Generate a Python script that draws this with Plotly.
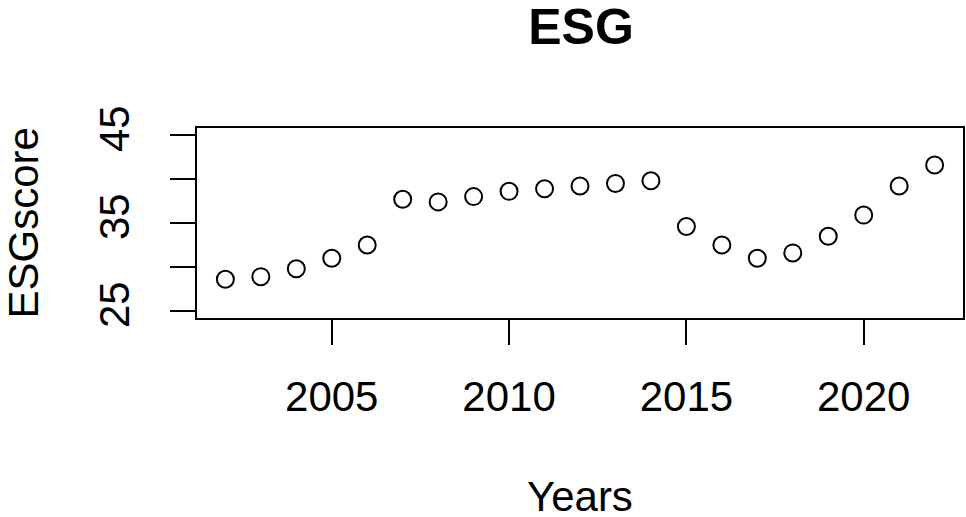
import plotly.graph_objects as go

years = list(range(2002, 2023))
esg_score = [28.6, 28.9, 29.8, 31.0, 32.5, 37.7, 37.4, 38.0, 38.6, 38.9, 39.2,
             39.5, 39.8, 34.6, 32.5, 31.0, 31.6, 33.5, 35.9, 39.2, 41.6]
x_ticks = [2005, 2010, 2015, 2020]
y_ticks = [25, 30, 35, 40, 45]
y_tick_labels = ["25", "", "35", "", "45"]

FONT = "Liberation Sans, Arial, sans-serif"
W, H = 966, 517
L, R, T, B = 197, 1, 128, 199
PW, PH = W - L - R, H - T - B

fig = go.Figure(go.Scatter(
    x=years, y=esg_score, mode="markers",
    marker=dict(symbol="circle-open", size=17, color="black",
                line=dict(width=2, color="black")),
    showlegend=False,
))

fig.update_layout(
    width=W, height=H,
    margin=dict(l=L, r=R, t=T, b=B, pad=0),
    paper_bgcolor="white", plot_bgcolor="white",
    font=dict(family=FONT, size=42, color="black"),
    title=dict(text="<b>ESG</b>", x=(L + PW / 2) / W, xanchor="center",
               y=1 - 26 / H, yanchor="middle", yref="container",
               font=dict(family=FONT, size=50, color="black")),
    xaxis=dict(range=[2001.2, 2022.8], tickvals=x_ticks,
               ticks="outside", ticklen=25, tickwidth=1.5, tickcolor="black",
               showline=True, linecolor="black", linewidth=1.5, mirror=True,
               showgrid=False, zeroline=False, ticklabelstandoff=16,
               tickfont=dict(size=42)),
    yaxis=dict(range=[24.2, 45.8], tickvals=y_ticks, ticktext=y_tick_labels,
               ticks="outside", ticklen=25, tickwidth=1.5, tickcolor="black",
               showline=True, linecolor="black", linewidth=1.5, mirror=True,
               showgrid=False, zeroline=False, tickangle=-90,
               ticklabelstandoff=24, tickfont=dict(size=42)),
    annotations=[
        dict(text="Years", xref="paper", yref="paper",
             x=0.5, y=(T + PH - 496) / PH, xanchor="center",
             yanchor="middle", showarrow=False, font=dict(size=42)),
        dict(text="ESGscore", xref="paper", yref="paper",
             x=(23 - L) / PW, y=0.5, xanchor="center",
             yanchor="middle", textangle=-90, showarrow=False,
             font=dict(size=42)),
    ],
)

fig.write_html(
    "out.html",
    config={"displayModeBar": False},
    post_script="document.body.style.margin='0';"
                "document.body.style.overflow='hidden';",
)
